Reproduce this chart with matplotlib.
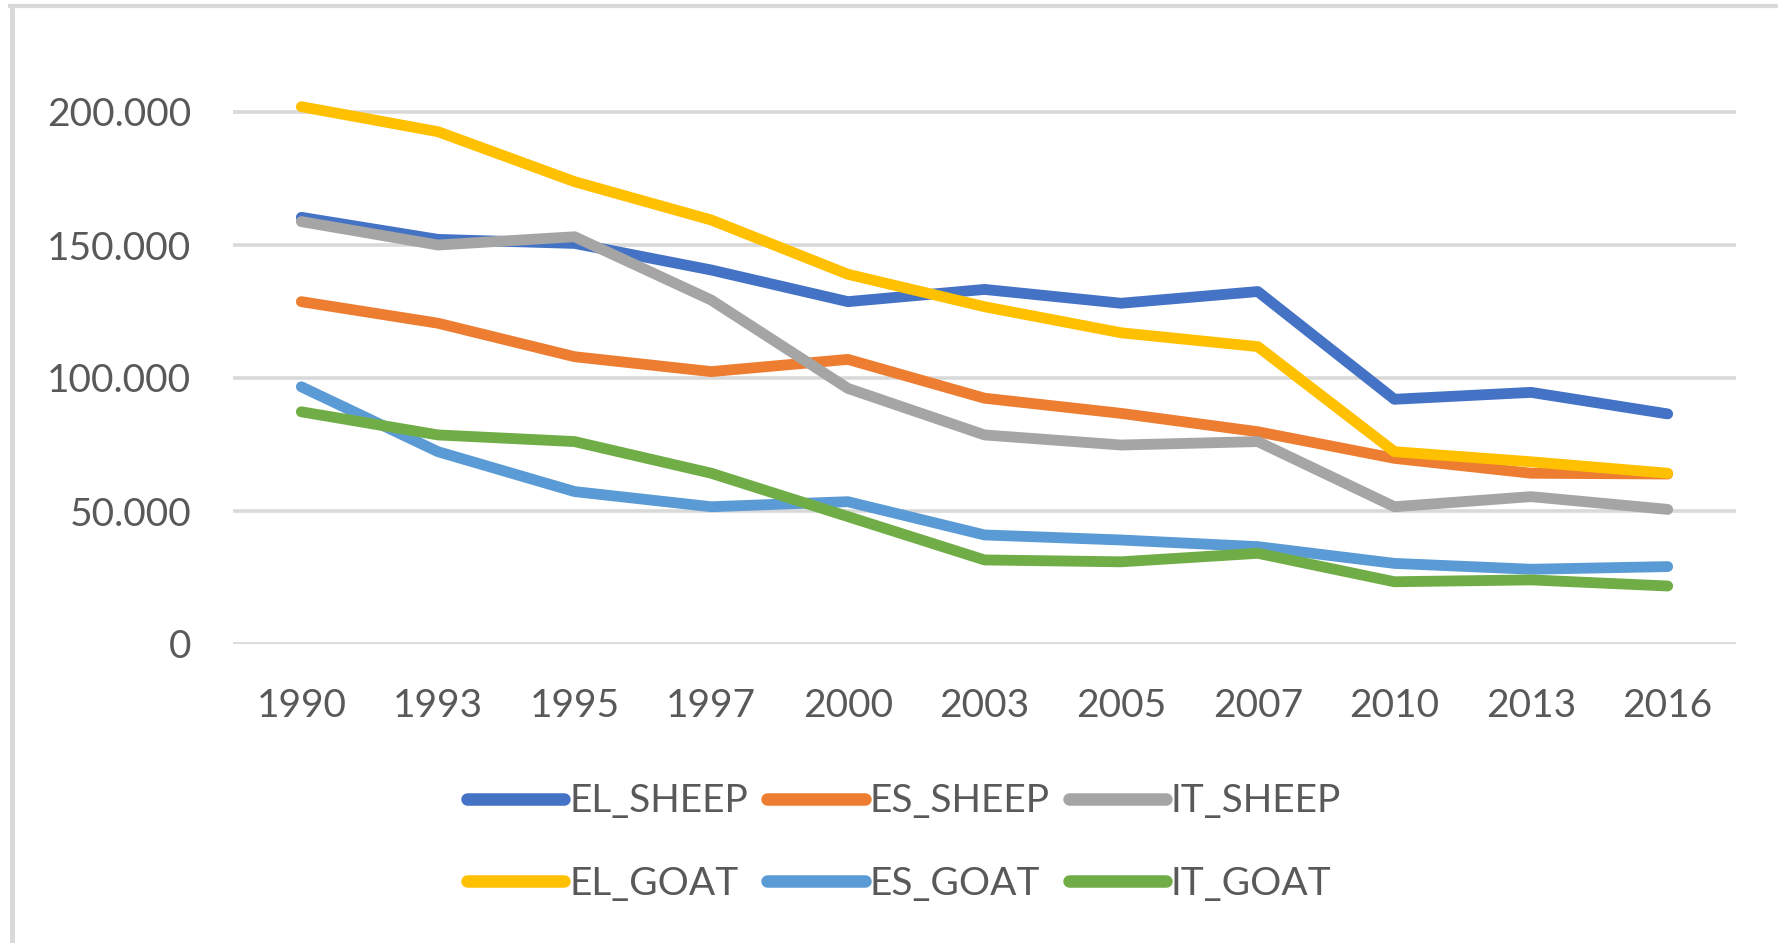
import matplotlib
matplotlib.use("Agg")
import matplotlib.pyplot as plt
from matplotlib.lines import Line2D
from matplotlib.ticker import FuncFormatter

YEARS = ["1990", "1993", "1995", "1997", "2000", "2003", "2005", "2007", "2010", "2013", "2016"]

EL_SHEEP = [160400, 152100, 150600, 140600, 128700, 133300, 128100, 132500, 92000, 94600, 86500]
ES_SHEEP = [128700, 120600, 108000, 102400, 107000, 92400, 86700, 79800, 69800, 64200, 63900]
IT_SHEEP = [158800, 150000, 153100, 129300, 96100, 78600, 74800, 76100, 51600, 55400, 50600]
EL_GOAT = [202000, 192600, 173800, 159400, 139000, 126800, 117000, 111800, 72300, 68500, 64200]
ES_GOAT = [96700, 72300, 57300, 51600, 53500, 41000, 39100, 36600, 30300, 28100, 29100]
IT_GOAT = [87300, 78600, 76100, 64200, 47900, 31600, 30900, 34100, 23400, 24100, 21800]

SERIES = [
    ("EL_SHEEP", EL_SHEEP, "#4472C4"),
    ("ES_SHEEP", ES_SHEEP, "#ED7D31"),
    ("IT_SHEEP", IT_SHEEP, "#A5A5A5"),
    ("EL_GOAT", EL_GOAT, "#FFC000"),
    ("ES_GOAT", ES_GOAT, "#5B9BD5"),
    ("IT_GOAT", IT_GOAT, "#70AD47"),
]

TEXT_COLOR = "#595959"
GRID_COLOR = "#D9D9D9"

plt.rcParams["font.family"] = ["Lato", "DejaVu Sans"]

W, H = 1778, 943
fig = plt.figure(figsize=(W / 100, H / 100), dpi=100)

# plot area in pixels: x 233..1736, y=0 at 644, top chosen from ylim
y_max = 215000
px_per_unit = 532 / 200000
top_px = 644 - y_max * px_per_unit
ax = fig.add_axes([233 / W, (H - 644) / H, (1736 - 233) / W, (644 - top_px) / H])

x = list(range(len(YEARS)))
lines = []
for name, vals, color in SERIES:
    ln, = ax.plot(x, vals, color=color, lw=7.8, label=name,
                  solid_capstyle="round", solid_joinstyle="round")
    lines.append(ln)

ax.set_xlim(-0.5, len(YEARS) - 0.5)
ax.set_ylim(0, y_max)
ax.set_yticks([0, 50000, 100000, 150000, 200000])
ax.yaxis.set_major_formatter(FuncFormatter(lambda v, p: f"{v:,.0f}".replace(",", ".")))
ax.set_xticks(x)
ax.set_xticklabels(YEARS)

ax.grid(axis="y", color=GRID_COLOR, lw=2.6)
ax.set_axisbelow(True)
for s in ax.spines.values():
    s.set_visible(False)
ax.tick_params(axis="both", length=0, labelsize=28, colors=TEXT_COLOR)
ax.tick_params(axis="y", pad=30)
ax.tick_params(axis="x", pad=32)

# legend fills column-wise, so interleave to get row order
order = [0, 3, 1, 4, 2, 5]
leg = fig.legend([lines[i] for i in order], [SERIES[i][0] for i in order],
                 loc="center", bbox_to_anchor=(904 / W, (H - 842.5) / H),
                 ncol=3, frameon=False, fontsize=28, handlelength=2.5,
                 handletextpad=0.12, columnspacing=0.5, labelspacing=1.2)
for t in leg.get_texts():
    t.set_color(TEXT_COLOR)
for h in leg.get_lines():
    h.set_linewidth(9)
    h.set_solid_capstyle("round")

# chart frame (top and left edges visible)
fig.add_artist(Line2D([10 / W, 1.0], [(H - 6) / H, (H - 6) / H], color=GRID_COLOR, lw=3))
fig.add_artist(Line2D([11.5 / W, 11.5 / W], [0, (H - 6) / H], color=GRID_COLOR, lw=3.5))

fig.savefig("out.png", dpi=100)
